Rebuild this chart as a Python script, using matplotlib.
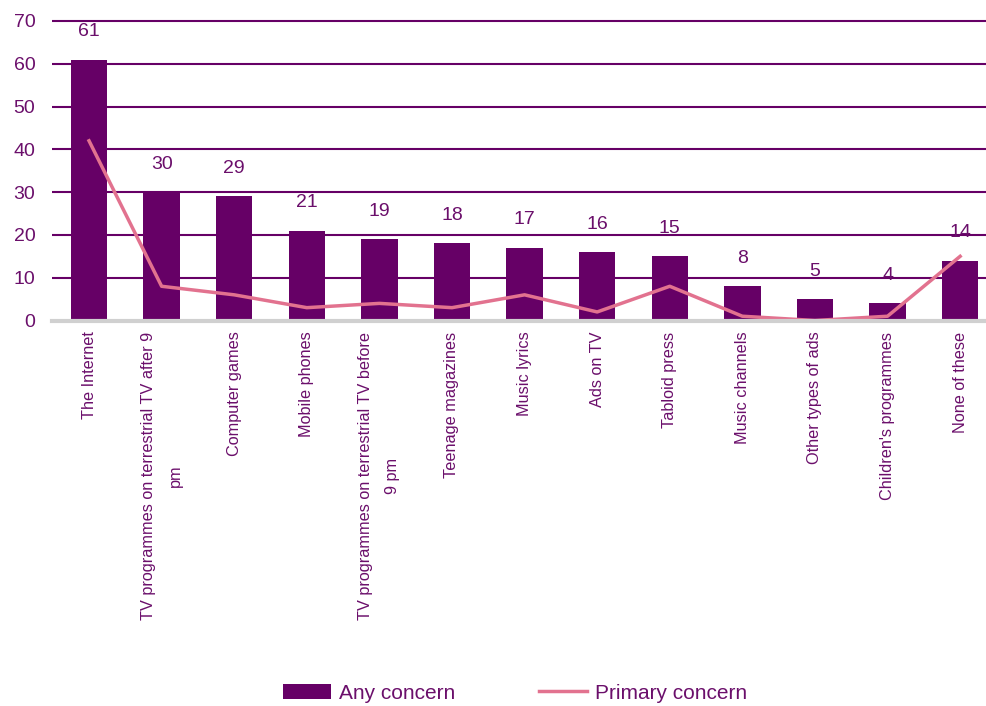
import matplotlib
matplotlib.use("Agg")
import matplotlib.pyplot as plt
import numpy as np

categories = ["The Internet", "TV programmes on terrestrial TV after 9\npm", "Computer games",
              "Mobile phones", "TV programmes on terrestrial TV before\n9 pm", "Teenage magazines",
              "Music lyrics", "Ads on TV", "Tabloid press", "Music channels",
              "Other types of ads", "Children's programmes", "None of these"]
any_concern = [61, 30, 29, 21, 19, 18, 17, 16, 15, 8, 5, 4, 14]
primary_concern = [42, 8, 6, 3, 4, 3, 6, 2, 8, 1, 0, 1, 15]
yticks = [0, 10, 20, 30, 40, 50, 60, 70]

PURPLE = "#660066"
PINK = "#E2728F"
TXT = "#6B0F6B"

plt.rcParams['font.family'] = ['Liberation Sans', 'DejaVu Sans']

fig = plt.figure(figsize=(9.87, 7.06), dpi=100)
ax = fig.add_axes([52/987, 1-320.5/706, 1-52/987, (320.5-18)/706])

x = np.arange(len(categories))
bars = ax.bar(x, any_concern, width=0.5, color=PURPLE, zorder=2, label="Any concern")
line, = ax.plot(x, primary_concern, color=PINK, lw=2.5, zorder=3, label="Primary concern")

for xi, v in zip(x, any_concern):
    ax.annotate(str(v), (xi, v), xytext=(0, 20), textcoords="offset points",
                ha="center", va="center", fontsize=14, color=TXT)

ax.set_ylim(0, 70.7)
ax.set_xlim(-0.51, 12.37)
ax.set_yticks(yticks)
ax.yaxis.grid(True, color=PURPLE, lw=1.5, zorder=1)
ax.set_axisbelow(True)
for s in ["left", "right", "top"]:
    ax.spines[s].set_visible(False)
ax.spines["bottom"].set_color("#D0D0D0")
ax.spines["bottom"].set_linewidth(3)
ax.spines["bottom"].set_zorder(4)
ax.tick_params(axis="y", length=0, labelsize=14, labelcolor=TXT, pad=12)
ax.tick_params(axis="x", length=0, pad=8)
ax.set_xticks(x)
ax.set_xticklabels(categories, rotation=90, fontsize=11.7, color=TXT, va="top",
                   ha="center", linespacing=2.0, multialignment="center")

fig.legend([bars, line], ["Any concern", "Primary concern"], loc="lower center",
           bbox_to_anchor=(0.522, -0.022), ncol=2, frameon=False,
           fontsize=15, labelcolor=TXT, handlelength=2.3, handleheight=0.7,
           columnspacing=4.0, handletextpad=0.4)

fig.savefig("out.png", dpi=100)
